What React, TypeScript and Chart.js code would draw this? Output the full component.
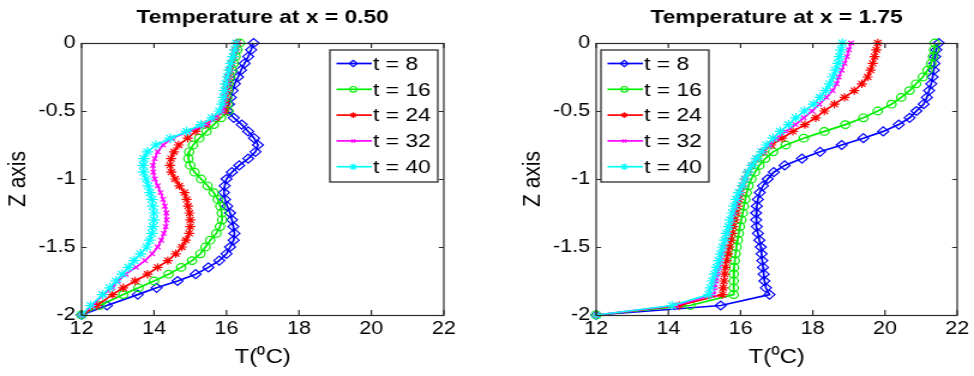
import React, { useEffect, useRef } from "react";
import { Chart, registerables } from "chart.js";
import { drawPoint } from "chart.js/helpers";

Chart.register(...registerables);

// ---------------- data ----------------
const zLevels = [
  0, -0.05, -0.1, -0.15, -0.2, -0.25, -0.3, -0.35, -0.4, -0.45,
  -0.5, -0.55, -0.6, -0.65, -0.7, -0.75, -0.8, -0.85, -0.9, -0.95,
  -1, -1.05, -1.1, -1.15, -1.2, -1.25, -1.3, -1.35, -1.4, -1.45,
  -1.5, -1.55, -1.6, -1.65, -1.7, -1.75, -1.8, -1.85, -1.93, -2,
];

const xTickValues = [12, 14, 16, 18, 20, 22];
const yTickValues = [0, -0.5, -1, -1.5, -2];
const seriesLabels = ["t = 8", "t = 16", "t = 24", "t = 32", "t = 40"];
const panelTitles = ["Temperature at x = 0.50", "Temperature at x = 1.75"];

// x = 0.50
const leftT8 = [
  16.75, 16.68, 16.6, 16.5, 16.4, 16.32, 16.23, 16.17, 16.12, 16.07,
  16.03, 16.2, 16.42, 16.6, 16.76, 16.87, 16.8, 16.6, 16.35, 16.15,
  16.0, 15.95, 15.93, 15.96, 16.02, 16.1, 16.15, 16.19, 16.22, 16.2,
  16.1, 16.0, 15.8, 15.5, 15.15, 14.65, 14.07, 13.55, 12.7, 12.0,
];
const leftT16 = [
  16.37, 16.3, 16.25, 16.2, 16.15, 16.1, 16.06, 16.03, 16.02, 16.03,
  16.05, 15.85, 15.65, 15.45, 15.25, 15.08, 14.97, 14.95, 15.0, 15.12,
  15.3, 15.48, 15.65, 15.76, 15.83, 15.87, 15.88, 15.82, 15.72, 15.55,
  15.42, 15.28, 15.05, 14.75, 14.4, 14.0, 13.57, 13.15, 12.5, 12,
];
const leftT24 = [
  16.3, 16.25, 16.2, 16.15, 16.1, 16.06, 16.02, 16.0, 15.98, 15.97,
  15.95, 15.7, 15.42, 15.15, 14.93, 14.68, 14.55, 14.47, 14.44, 14.48,
  14.58, 14.7, 14.84, 14.9, 14.94, 14.98, 15.0, 15.0, 14.97, 14.88,
  14.77, 14.6, 14.38, 14.1, 13.82, 13.48, 13.15, 12.85, 12.42, 12,
];
const leftT32 = [
  16.28, 16.22, 16.18, 16.12, 16.08, 16.03, 16.0, 15.97, 15.95, 15.93,
  15.9, 15.7, 15.45, 14.95, 14.5, 14.25, 14.1, 14.02, 13.97, 13.98,
  14.02, 14.1, 14.18, 14.25, 14.3, 14.34, 14.35, 14.32, 14.27, 14.2,
  14.1, 13.95, 13.75, 13.5, 13.22, 13.0, 12.85, 12.6, 12.3, 12,
];
const leftT40 = [
  16.27, 16.23, 16.18, 16.12, 16.07, 16.02, 15.98, 15.95, 15.92, 15.88,
  15.8, 15.6, 15.3, 14.9, 14.45, 14.05, 13.82, 13.72, 13.7, 13.72,
  13.78, 13.84, 13.89, 13.94, 13.97, 14.0, 14.0, 13.97, 13.94, 13.88,
  13.8, 13.63, 13.45, 13.3, 13.12, 12.95, 12.78, 12.58, 12.25, 12,
];

// x = 1.75
const rightT8 = [
  21.49, 21.42, 21.39, 21.37, 21.35, 21.32, 21.28, 21.22, 21.16, 21.07,
  20.87, 20.68, 20.38, 19.95, 19.4, 18.8, 18.2, 17.7, 17.22, 16.92,
  16.75, 16.62, 16.53, 16.48, 16.45, 16.43, 16.43, 16.45, 16.48, 16.52,
  16.56, 16.58, 16.6, 16.62, 16.64, 16.66, 16.7, 16.8, 15.45, 12,
];
const rightT16 = [
  21.38, 21.36, 21.33, 21.28, 21.18, 21.05, 20.86, 20.68, 20.45, 20.18,
  19.8, 19.4, 18.9, 18.32, 17.75, 17.25, 16.9, 16.68, 16.52, 16.4,
  16.3, 16.22, 16.17, 16.13, 16.09, 16.06, 16.02, 15.98, 15.95, 15.92,
  15.89, 15.86, 15.84, 15.82, 15.81, 15.81, 15.81, 15.81, 14.6, 12,
];
const rightT24 = [
  19.8, 19.76, 19.71, 19.66, 19.6, 19.52, 19.36, 19.15, 18.88, 18.6,
  18.32, 18.08, 17.78, 17.45, 17.15, 16.85, 16.62, 16.45, 16.32, 16.2,
  16.12, 16.06, 16.0, 15.95, 15.91, 15.88, 15.84, 15.8, 15.77, 15.73,
  15.69, 15.65, 15.61, 15.58, 15.56, 15.54, 15.52, 15.5, 14.3, 12,
];
const rightT32 = [
  19.06, 19.0, 18.95, 18.88, 18.8, 18.72, 18.66, 18.55, 18.38, 18.18,
  17.98, 17.75, 17.52, 17.25, 17.0, 16.8, 16.6, 16.44, 16.3, 16.2,
  16.12, 16.05, 15.98, 15.92, 15.86, 15.8, 15.74, 15.68, 15.62, 15.57,
  15.52, 15.48, 15.44, 15.4, 15.36, 15.32, 15.29, 15.26, 14.2, 12,
];
const rightT40 = [
  18.82, 18.78, 18.74, 18.7, 18.63, 18.56, 18.47, 18.36, 18.2, 18.02,
  17.77, 17.53, 17.33, 17.1, 16.9, 16.72, 16.58, 16.44, 16.32, 16.2,
  16.12, 16.05, 15.95, 15.88, 15.82, 15.77, 15.72, 15.67, 15.61, 15.56,
  15.5, 15.45, 15.4, 15.34, 15.28, 15.22, 15.17, 15.12, 14.1, 12,
];

// ---------------- style ----------------
const FONT = '"Liberation Sans", Arial, Helvetica, sans-serif';
const SX = 1.2; // the reference is stretched horizontally
const CANVAS_W = 406;
const CANVAS_H = 376;

const seriesStyles = [
  { color: "#0000ff", pointStyle: "rectRot", radius: 4.5, fill: "transparent", legendRadius: 3.2 },
  { color: "#00ee00", pointStyle: "circle", radius: 3.8, fill: "transparent", legendRadius: 2.8 },
  { color: "#ff0000", pointStyle: "star", radius: 4.2, fill: "#ff0000", legendRadius: 2.8 },
  { color: "#ff00ff", pointStyle: "crossRot", radius: 3.2, fill: "#ff00ff", legendRadius: 2.2 },
  { color: "#00ffff", pointStyle: "star", radius: 4.8, fill: "#00ffff", legendRadius: 3.2 },
];

function buildDatasets(series: number[][]) {
  return series.map((vals, i) => {
    const st = seriesStyles[i];
    return {
      label: seriesLabels[i],
      data: zLevels.map((z, k) => ({ x: vals[k], y: z })),
      borderColor: st.color,
      backgroundColor: st.color,
      borderWidth: 1.7,
      pointStyle: st.pointStyle,
      pointRadius: st.radius,
      pointHoverRadius: st.radius,
      pointBorderWidth: 1.2,
      pointBorderColor: st.color,
      pointBackgroundColor: st.fill,
      tension: 0,
      clip: false,
      order: 5 - i,
    };
  });
}

function framePlugin(legendSide: "left" | "right") {
  return {
    id: "matlabFrame",
    afterDraw(chart: any) {
      const { ctx, chartArea: a, scales } = chart;
      ctx.save();
      // axes box
      ctx.strokeStyle = "#2b2b2b";
      ctx.lineWidth = 1.2;
      ctx.strokeRect(a.left, Math.round(a.top) + 0.5, a.right - a.left, Math.round(a.bottom - a.top));
      // inward ticks on all four sides
      ctx.beginPath();
      xTickValues.forEach((v) => {
        const px = scales.x.getPixelForValue(v);
        ctx.moveTo(px, a.bottom);
        ctx.lineTo(px, a.bottom - 5);
        ctx.moveTo(px, a.top);
        ctx.lineTo(px, a.top + 5);
      });
      yTickValues.forEach((v) => {
        const py = Math.round(scales.y.getPixelForValue(v)) + 0.5;
        ctx.moveTo(a.left, py);
        ctx.lineTo(a.left + 5 / SX, py);
        ctx.moveTo(a.right, py);
        ctx.lineTo(a.right - 5 / SX, py);
      });
      ctx.stroke();

      // legend
      const w = 90;
      const h = 132;
      const bx = legendSide === "right" ? a.right - 5 - w : a.left + 4;
      const by = a.top + 7;
      ctx.fillStyle = "#ffffff";
      ctx.fillRect(bx, by, w, h);
      ctx.strokeStyle = "#3c3c3c";
      ctx.lineWidth = 1.4;
      ctx.strokeRect(bx, by, w, h);
      chart.data.datasets.forEach((ds: any, i: number) => {
        const st = seriesStyles[i];
        const y = by + 13.5 + i * 25.8;
        ctx.strokeStyle = st.color;
        ctx.lineWidth = 1.7;
        ctx.beginPath();
        ctx.moveTo(bx + 5.5, y);
        ctx.lineTo(bx + 35, y);
        ctx.stroke();
        ctx.fillStyle = st.fill;
        ctx.lineWidth = 1.2;
        drawPoint(ctx, { pointStyle: st.pointStyle, radius: st.legendRadius, borderWidth: 1.2, rotation: 0 } as any, bx + 19.5, y);
        ctx.fillStyle = "#000000";
        ctx.font = `19px ${FONT}`;
        ctx.textAlign = "left";
        ctx.textBaseline = "middle";
        ctx.fillText(ds.label, bx + 36, y + 1);
      });
      ctx.restore();
    },
  };
}

function buildConfig(title: string, series: number[][], padLeft: number, padRight: number, legendSide: "left" | "right") {
  return {
    type: "line" as const,
    data: { datasets: buildDatasets(series) },
    options: {
      responsive: false,
      animation: false as const,
      events: [] as any[],
      layout: { padding: { left: padLeft, right: padRight, top: 0, bottom: 0 } },
      plugins: {
        legend: { display: false },
        tooltip: { enabled: false },
        title: {
          display: true,
          text: title,
          color: "#000",
          fullSize: false,
          font: { family: FONT, size: 19, weight: "bold" as const },
          padding: { top: 6, bottom: 14.2 },
        },
      },
      scales: {
        x: {
          type: "linear" as const,
          min: 12,
          max: 22,
          afterBuildTicks: (s: any) => {
            s.ticks = xTickValues.map((v) => ({ value: v }));
          },
          afterFit: (s: any) => {
            s.height = 61;
          },
          grid: { display: false, drawTicks: false },
          border: { display: false },
          ticks: {
            color: "#000",
            font: { family: FONT, size: 18 },
            padding: 3,
            maxRotation: 0,
            autoSkip: false,
          },
          title: {
            display: true,
            text: "T(\u2070C)",
            color: "#000",
            font: { family: FONT, size: 20 },
            padding: { top: 0, bottom: 7 },
          },
        },
        y: {
          type: "linear" as const,
          min: -2,
          max: 0,
          afterBuildTicks: (s: any) => {
            s.ticks = yTickValues.map((v) => ({ value: v }));
          },
          afterFit: (s: any) => {
            s.width = 68;
          },
          grid: { display: false, drawTicks: false },
          border: { display: false },
          ticks: {
            color: "#000",
            font: { family: FONT, size: 18 },
            padding: 5,
            callback: (v: any) => String(v),
          },
          title: {
            display: true,
            text: "Z axis",
            color: "#000",
            font: { family: FONT, size: 21 },
            padding: { top: 3, bottom: 0 },
          },
        },
      },
    },
    plugins: [framePlugin(legendSide)],
  };
}

export default function App() {
  const leftRef = useRef<HTMLCanvasElement | null>(null);
  const rightRef = useRef<HTMLCanvasElement | null>(null);

  useEffect(() => {
    const charts: Chart[] = [];
    if (leftRef.current) {
      charts.push(
        new Chart(
          leftRef.current,
          buildConfig(panelTitles[0], [leftT8, leftT16, leftT24, leftT32, leftT40], 0, 36, "right") as any
        )
      );
    }
    if (rightRef.current) {
      charts.push(
        new Chart(
          rightRef.current,
          buildConfig(panelTitles[1], [rightT8, rightT16, rightT24, rightT32, rightT40], 23, 14, "left") as any
        )
      );
    }
    return () => charts.forEach((c) => c.destroy());
  }, []);

  const canvasStyle = (left: number): React.CSSProperties => ({
    position: "absolute",
    left,
    top: 0,
    width: `${CANVAS_W * SX}px`,
    height: `${CANVAS_H}px`,
  });

  return (
    <div style={{ position: "absolute", left: 0, top: 0, width: 974, height: 376, background: "#fff" }}>
      <canvas ref={leftRef} width={CANVAS_W} height={CANVAS_H} style={canvasStyle(0)} />
      <canvas ref={rightRef} width={CANVAS_W} height={CANVAS_H} style={canvasStyle(487)} />
    </div>
  );
}
